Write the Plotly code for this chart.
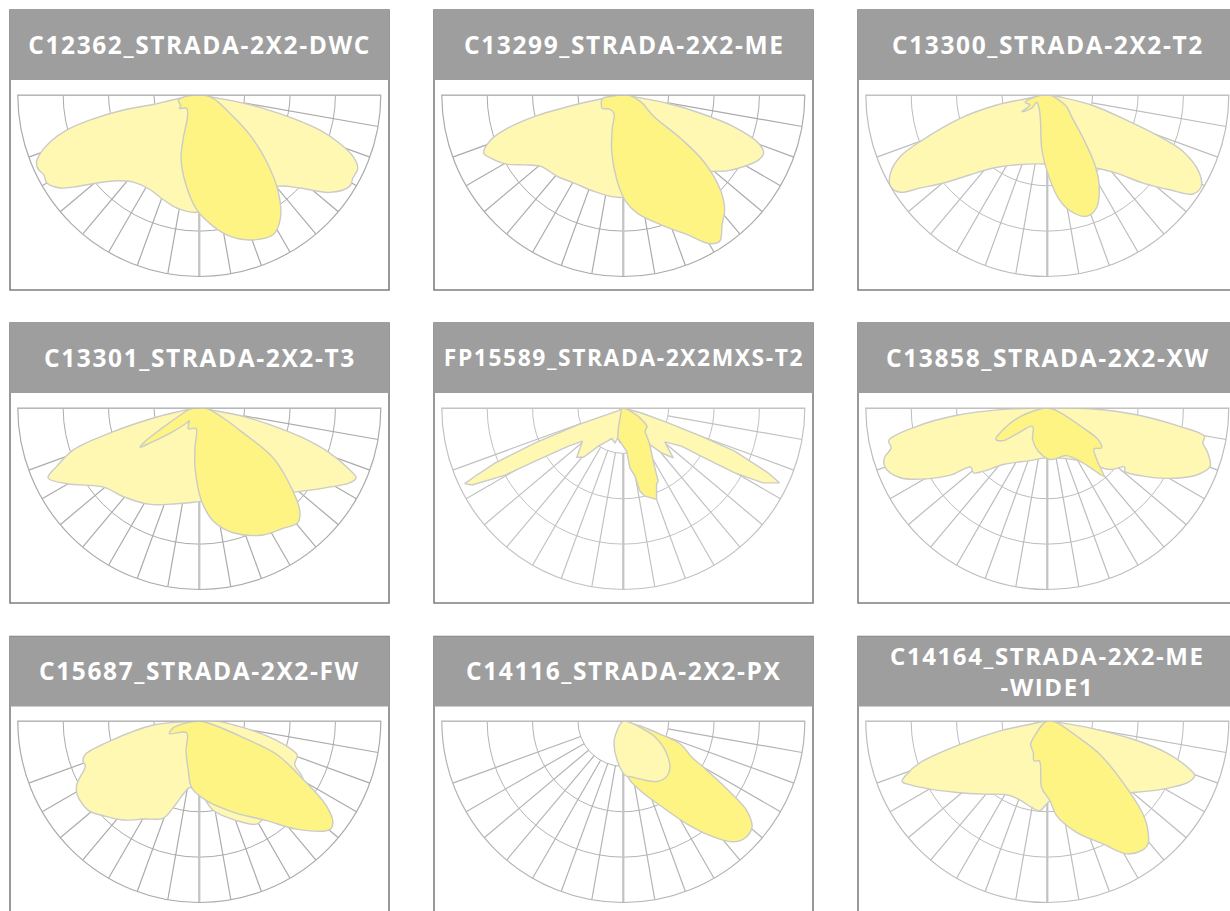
import plotly.graph_objects as go

TITLES = ["C12362_STRADA-2X2-DWC", "C13299_STRADA-2X2-ME", "C13300_STRADA-2X2-T2",
          "C13301_STRADA-2X2-T3", "FP15589_STRADA-2X2MXS-T2", "C13858_STRADA-2X2-XW",
          "C15687_STRADA-2X2-FW", "C14116_STRADA-2X2-PX", "C14164_STRADA-2X2-ME<br>-WIDE1"]

RINGS = [25, 50, 75, 100]
SPOKES = [-70, -60, -50, -40, -30, -20, -10, 0, 10, 20, 30, 40, 50, 60, 70, 80]

# Light lobe (transverse plane) and dark lobe: angle from nadir (deg), relative intensity (%)
A1L = [-80,-78.4,-78.8,-77.1,-75.2,-72.6,-69.9,-67.3,-65,-62.9,-60,-56.2,-53.2,-49.3,-43.9,-37.1,-27.4,-18.9,-11.3,-1.3,40.2,47.2,53.2,58.7,61.6,65.2,68.2,71,73.8,76,78.2,79.9,81]
R1L = [12.6,25.4,42.6,61.6,75.4,86,93.2,97.3,97.6,96.3,96.9,92.1,84.1,74.4,65.6,60.2,58.8,61,63.5,64.7,65.9,75.4,89.6,96.9,96.2,96.2,91.2,81.7,69,53.2,35.9,20.8,6]
A1D = [-86,-80,-74,-60,-56.3,-43.5,-30.3,-20.3,-16.1,-9.4,-1.3,6.1,12.2,19.2,27.9,33.4,39.3,45.3,51.7,59.1,76.6,88]
R1D = [5.1,10.4,12,11.8,13.2,10.1,12.7,25.4,36.2,48.3,63.2,72.8,79.6,84.6,87,81.2,68.6,52.1,35.5,19.6,7.9,2.2]

A2L = [-80,-78.5,-76.4,-74,-71.3,-67.4,-64.5,-59.5,-54.8,-49.1,-38.9,-29.2,-16.9,-7.1,-0.6,26,48.7,53.8,60.3,64.4,67.5,70.4,74,76.7,79.3,80.5]
R2L = [12.6,27.7,50.5,66.3,77,83.3,80.8,75,66.8,60.1,57.7,55.6,55.5,56.3,56.4,55,63.9,70.8,78.4,82.7,83.7,79.1,63.2,43.7,24.6,7.8]
A2D = [-85,-82,-77,-57.6,-45.7,-27,-18.3,-11.6,-4,1.3,6.7,16,24.6,29.9,33.4,37.3,41.5,45.7,50.4,52.9,54.8,69,88]
R2D = [4.2,10.7,12.2,13.7,11,11.3,19.3,31.8,47.7,58.6,65.5,74.3,84.6,94.4,96.5,89.8,84.3,74.7,57.5,39.5,20.6,10.2,3.1]

A3L = [-80,-78.8,-75,-69.9,-67.3,-63.5,-59.8,-56.5,-53.8,-49.7,-44,-36.4,-23.7,-1.9,33.9,41.5,47.4,52.2,55.8,59.3,62.8,67.4,69.9,72.1,77.3,80.5]
R3L = [12.5,28.4,49.7,74.5,87.8,96.6,100,97.1,86.7,75,61.1,50,42,38,48.6,57.5,71.7,85.2,97,98.6,94.3,81,64,47.7,25,8.9]
A3D = [-85,-78,-71.8,-60,-57,-49.6,-55.5,-28,-12.5,-6,0.7,6.1,11.1,17.9,23.5,30,34.3,39.7,48.3,58.9,70.3,88]
R3D = [4,8.8,12.9,11,16.8,11.3,7.1,9.3,16.9,29.5,44,57.1,65,70.2,67.9,57.1,46.5,30.9,17.9,12.4,5.4,1.5]

A4L = [-80,-77.7,-74.4,-71.7,-67.8,-65.2,-60.2,-50.4,-40.5,-27,-13.3,0.4,26,49.2,57.9,63.5,66,67.7,71,73.9,76.7,79.3,80.5]
R4L = [12.6,25.9,51,72.9,84.7,91.8,84,68.4,64.3,59.6,54.2,51.6,55,70.7,82.6,92.5,94.6,89.4,75.9,59.5,39.9,24.6,7.8]
A4D = [-84,-72.6,-61.2,-58,-56.5,-54.6,-48.1,-40.2,-38.3,-28,-9.2,-6.2,-4.1,1.4,7,15.2,26.7,34.8,40.7,44.3,48.4,56,60.4,67.4,88]
R4D = [5.2,9.2,24.7,36.3,39.1,33.2,19.2,10.8,8.9,12.9,11.5,22.1,33,51.3,62.7,71.2,78.3,80.8,83.3,79.3,69,49.1,27.8,14.3,4]

A5L = [-62,-69.7,-68.4,-66.8,-65.3,-64.5,-63,-60.4,-58.9,-55.1,-50.9,-43.4,-39,-33.1,-24.7,-20.8,-13.4,-10.7,-5.4,3.8,4.4,36,40.4,45,50.8,56.7,58.3,59.8,61.8,64.4,65.9,68.8,70.1,71.6,74.7]
R5L = [3.1,26.4,52.2,76.7,89.7,96.8,93.5,74.8,56.7,36.8,29,37.3,34.9,25.1,19.8,18,19.8,16.8,19.3,13.8,23.9,24.9,32.5,38.9,29.5,38.3,50.6,71,87.3,95.4,87.3,65.8,45.8,26.1,10.4]
A5D = [-68,-14,-10.7,4.4,6.3,9.7,11.3,13.8,20,23.5,25.5,29.4,36,42.9,52.6,55.3,61,71.6]
R5D = [1,11.3,16.8,23.9,33.2,38.1,46.7,50,53.6,45.9,44.6,33.6,24.9,17.5,16.6,14.5,9.4,2.9]

A6L = [-88,-85.4,-82,-78.4,-75.7,-73,-69.7,-64.6,-59.5,-55.3,-52.3,-48.7,-45.3,-37.8,-18.2,-0.8,34,45.4,52.7,50.8,54.6,59.4,65.7,70.3,74.4,77.4,79.8,82.1,85.7,88.8]
R6L = [26,50,72.5,89.2,88.8,93.9,95.1,89.6,76.9,65,53.3,54.1,49.5,39.4,30.5,27.5,35.4,48.3,53.6,55.1,64.8,76.2,90,95.3,91.8,87.8,88,73.6,49.2,25.3]
A6D = [-82,-70.8,-62.2,-58.5,-53.4,-49.7,-38.7,-24.9,-11.7,3,22.1,31.5,36.7,39.7,42.8,48.9,53.6,58.2,61,74]
R6D = [4,17.8,29.4,33.3,30.1,22,12.9,19.2,24.3,28.4,28.3,34.4,42.3,48.8,41.2,34.2,37.1,33,22.6,5.3]

A7L = [-87,-85,-77.4,-73.7,-71.1,-68.5,-62.7,-59.1,-51,-45.3,-37.4,-29.7,-20.3,-16.7,-12.3,-8,0.5,8.8,20.5,29,33.1,60,65.6,70.7,74,78.2,82.4,89.5]
R7L = [7.9,25.4,50.3,65.4,67.8,67.5,75.9,78.5,78.5,74.2,68.7,62.2,57,49.7,41.2,37,39.4,49.8,58.6,65,64.5,66,57.7,57.2,49.9,35.9,21.6,9.5]
A7D = [-80.5,-75.6,-67.1,-47.4,-24,-12.4,-6.6,5.2,20.3,34,41.9,50.2,52.8,56.3,60.7,66.7,69.3,73.9]
R7D = [8.9,14.7,17.9,9.5,18,28.1,36.9,44.1,53.5,66.2,80,93.5,92.4,84.1,65.5,46.3,25.9,9.9]

A8L = [-29.9,-21.8,-8.5,2.4,7.5,16.6,29.3,38.7,45,54.7,64,69,77]
R8L = [8.5,13.8,22.2,30.2,30.9,33.4,38.2,38.7,36.3,28.5,18.8,10.2,4.1]
A8D = [4.2,13.9,23.7,31.8,37.2,41.6,45.6,50.4,54,55.9,60,62,67.9,70.3,73.9,66.8]
R8D = [30.3,39.6,51,66.8,79.3,88.9,92.9,92,84.2,73.5,51.2,42.9,34,21.8,9.9,1.4]

A9L = [-79,-78.4,-75,-71.9,-68.9,-67.4,-65,-59.8,-51.7,-41.1,-28.8,-19,-10.2,-4.7,1.9,26.1,50.2,59.5,66.4,69.6,71.3,75.1,78,80.6,82.5]
R9L = [11.6,25.6,49.7,73.6,83.8,86.7,83.3,74.6,63.5,53.5,46.4,46.1,48.4,49.6,44,44.9,61.5,74,84.6,86.6,82.8,67.8,48.3,24.7,7]
A9D = [-56.3,-42.4,-35.5,-23.9,-18.4,-11.3,-4.9,1.9,5.6,14.7,24.4,30.8,36,39.3,43.3,45.8,50,57.7,62.9,75.3,88]
R9D = [2.6,8.7,15.8,19,23.2,22.4,36.8,44,52.4,63.4,74.4,85.2,88.3,87.6,80.4,73.5,56.9,34.2,18.1,7.2,3.3]

LOBES = [(A1L,R1L,A1D,R1D),(A2L,R2L,A2D,R2D),(A3L,R3L,A3D,R3D),
         (A4L,R4L,A4D,R4D),(A5L,R5L,A5D,R5D),(A6L,R6L,A6D,R6D),
         (A7L,R7L,A7D,R7D),(A8L,R8L,A8D,R8D),(A9L,R9L,A9D,R9D)]

W, H = 1230, 911
RAD = 181.5
COL_X = [199.3, 623.3, 1047.3]
ROW_Y = [95, 408, 721]
BOX_L = [10, 434, 858]
BOX_W, BOX_H, HEAD_H = 379, 280, 70
BOX_T = [10, 323, 636.5]
LIGHT, DARK, EDGE = "#FEF8B3", "#FEF483", "#CBCBC7"
HEAD, FRAME = "#9E9E9E", "#7F7F7F"
GRID = ["#ABABAB", "#ABABAB", "#BDBDBD", "#ABABAB", "#C2C2C2", "#BDBDBD", "#ABABAB", "#B4B4B4", "#BDBDBD"]
TITLE_SIZE = [24.5, 24.5, 24.5, 24.5, 22.8, 24.5, 24.5, 24.5, 24]

fig = go.Figure()
layout = dict(width=W, height=H, margin=dict(l=0, r=0, t=0, b=0), showlegend=False,
              paper_bgcolor="white", plot_bgcolor="white", shapes=[], annotations=[])


def lobe(a, r, fill, sub, shape):
    return go.Scatterpolar(theta=[a[0]] + a + [a[-1]], r=[0] + r + [0], mode="lines", fill="toself",
                           fillcolor=fill, line=dict(color=EDGE, width=1.4, shape=shape),
                           hoverinfo="skip", subplot=sub)


for i, (title, data) in enumerate(zip(TITLES, LOBES)):
    col, row = i % 3, i // 3
    sub = "polar" if i == 0 else f"polar{i + 1}"
    cx, cy = COL_X[col], ROW_Y[row]
    layout[sub] = dict(
        domain=dict(x=[(cx - RAD) / W, (cx + RAD) / W], y=[1 - (cy + RAD) / H, 1 - cy / H]),
        sector=[180, 360], bgcolor="rgba(0,0,0,0)",
        radialaxis=dict(range=[0, 100], tickvals=RINGS, showticklabels=False, ticks="", showline=False,
                        gridcolor=GRID[i], gridwidth=1.2),
        angularaxis=dict(rotation=-90, direction="counterclockwise", showticklabels=False, ticks="",
                         showgrid=False, showline=True, linecolor=GRID[i], linewidth=1.2))
    th, rr = [], []
    for s in SPOKES:
        th += [s, s, None]
        rr += [RINGS[0], RINGS[-1], None]
    fig.add_trace(go.Scatterpolar(theta=th, r=rr, mode="lines", line=dict(color=GRID[i], width=1.2),
                                  hoverinfo="skip", subplot=sub))
    fig.add_trace(go.Scatterpolar(theta=[-90, -90, None, 90, 90, None, 0, 0], r=[100, 0, None, 0, 100, None, RINGS[0], 100],
                                  mode="lines", line=dict(color="#C4C4C4", width=2.2),
                                  hoverinfo="skip", subplot=sub))
    al, rl, ad, rd = data
    shape = "linear" if i == 4 else "spline"
    if i == 7:
        fig.add_trace(lobe(ad, rd, DARK, sub, shape))
        fig.add_trace(lobe(al, rl, LIGHT, sub, shape))
    else:
        fig.add_trace(lobe(al, rl, LIGHT, sub, shape))
        fig.add_trace(lobe(ad, rd, DARK, sub, shape))

    x0, y0 = BOX_L[col], BOX_T[row]
    layout["shapes"].append(dict(type="rect", xref="paper", yref="paper", layer="below",
                                 x0=x0 / W, x1=(x0 + BOX_W) / W, y0=1 - (y0 + BOX_H) / H, y1=1 - y0 / H,
                                 line=dict(color=FRAME, width=1.6), fillcolor="white"))
    layout["shapes"].append(dict(type="rect", xref="paper", yref="paper", layer="below",
                                 x0=x0 / W, x1=(x0 + BOX_W) / W, y0=1 - (y0 + HEAD_H) / H, y1=1 - y0 / H,
                                 line=dict(width=0), fillcolor=HEAD))
    layout["annotations"].append(dict(text=title, xref="paper", yref="paper", x=(x0 + BOX_W / 2) / W,
                                      y=1 - (y0 + HEAD_H / 2 - 1) / H, showarrow=False,
                                      xanchor="center", yanchor="middle",
                                      font=dict(family="Open Sans", size=TITLE_SIZE[i], color="white", weight="bold")))

fig.update_layout(**layout)
POST = ("document.documentElement.style.overflow='hidden';document.body.style.margin='0';"
        "document.querySelectorAll('.annotation-text').forEach(t=>t.style.letterSpacing='1.6px');")
fig.write_html("out.html", post_script=POST, config=dict(displayModeBar=False))
